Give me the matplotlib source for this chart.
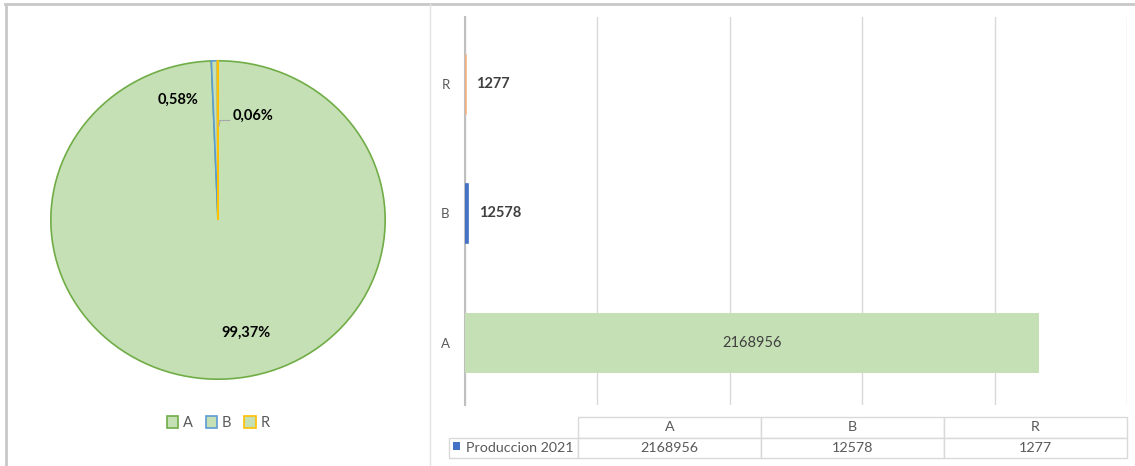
import numpy as np
import matplotlib
matplotlib.use("Agg")
import matplotlib.pyplot as plt
from matplotlib.patches import Patch, Rectangle
from matplotlib.lines import Line2D

plt.rcParams["font.family"] = ["Lato", "DejaVu Sans"]

# Datos de produccion 2021
categorias = ["A", "B", "R"]
produccion = [2168956, 12578, 1277]
serie = "Produccion 2021"

verde_claro = "#C5E0B4"
bordes_pie = ["#70AD47", "#5B9BD5", "#FFC000"]
bordes_barra = ["none", "#4472C4", "#F4B183"]
gris_texto = "#404040"
gris_eje = "#595959"

W, H = 1135, 466
fig = plt.figure(figsize=(W / 100, H / 100), dpi=100)


def caja(x0, y0, x1, y1):
    # rectangulo en pixeles (origen arriba a la izquierda) -> coords de figura
    return [x0 / W, 1 - y1 / H, (x1 - x0) / W, (y1 - y0) / H]


# marco y separador
fig.add_artist(Line2D([5 / W, 1], [1 - 4 / H, 1 - 4 / H], color="#C8C8C8", lw=2))
fig.add_artist(Line2D([6 / W, 6 / W], [0, 1 - 4 / H], color="#C8C8C8", lw=2))
fig.add_artist(Line2D([430 / W, 430 / W], [0, 1 - 4 / H], color="#E3E3E3", lw=1))

# ---- grafico circular ----
ax_pie = fig.add_axes(caja(50, 60, 386, 380))
wedges, _ = ax_pie.pie(produccion, startangle=90, counterclock=False,
                       colors=[verde_claro] * 3,
                       wedgeprops=dict(linewidth=1.2))
for w, c in zip(wedges, bordes_pie):
    w.set_edgecolor(c)
ax_pie.set_aspect("auto")
ax_pie.set_xlim(-1.005, 1.005)
ax_pie.set_ylim(-1.005, 1.005)

total = sum(produccion)
pct = [f"{v / total * 100:.2f}".replace(".", ",") + "%" for v in produccion]
ax_pie.text(0.17, -0.71, pct[0], ha="center", va="center", fontsize=10.5,
            fontweight="bold", color="black")
ax_pie.text(-0.24, 0.756, pct[1], ha="center", va="center", fontsize=10.5,
            fontweight="bold", color="black")
ax_pie.text(0.085, 0.655, pct[2], ha="left", va="center", fontsize=10.5,
            fontweight="bold", color="black")
ax_pie.plot([0.005, 0.012, 0.07], [0.59, 0.625, 0.625], color="#A6A6A6", lw=0.8)

handles = [Patch(facecolor=verde_claro, edgecolor=c, linewidth=1.2) for c in bordes_pie]
fig.legend(handles, categorias, loc="center", bbox_to_anchor=(218 / W, 1 - 423 / H),
           ncol=3, frameon=False, fontsize=10.5, handlelength=0.8, handleheight=0.8,
           handletextpad=0.3, columnspacing=0.9, labelcolor=gris_eje)

# ---- grafico de barras ----
ax_bar = fig.add_axes(caja(465, 16.5, 1127, 405))
y = np.arange(len(categorias))
barras = ax_bar.barh(y, produccion, height=0.46, color=verde_claro,
                     edgecolor=bordes_barra, linewidth=1.2, zorder=3)
barras[0].set_edgecolor("none")
barras[1].set_facecolor(bordes_barra[1])
barras[2].set_facecolor(bordes_barra[2])
barras[2].set_linewidth(1.8)
ax_bar.set_xlim(0, 2500000)
ax_bar.set_ylim(-0.48, 2.52)
ax_bar.set_xticks(np.arange(0, 2500001, 500000))
ax_bar.xaxis.grid(True, color="#D9D9D9", lw=1)
ax_bar.tick_params(axis="x", length=0, labelbottom=False)
ax_bar.set_yticks(y)
ax_bar.set_yticklabels(categorias, fontsize=9.5, color=gris_eje)
ax_bar.tick_params(axis="y", length=0, pad=11)
for s in ["top", "right", "bottom"]:
    ax_bar.spines[s].set_visible(False)
ax_bar.spines["left"].set_color("#BFBFBF")
ax_bar.spines["left"].set_linewidth(1.5)
ax_bar.spines["left"].set_zorder(2)

ax_bar.text(produccion[0] / 2, y[0], str(produccion[0]), ha="center", va="center",
            fontsize=10.5, color=gris_texto, zorder=5)
ax_bar.text(produccion[1] + 40000, y[1], str(produccion[1]), ha="left", va="center",
            fontsize=10.5, fontweight="bold", color=gris_texto, zorder=5)
ax_bar.text(produccion[2] + 40000, y[2], str(produccion[2]), ha="left", va="center",
            fontsize=10.5, fontweight="bold", color=gris_texto, zorder=5)

# ---- tabla de datos ----
ax_tab = fig.add_axes(caja(449, 417, 1127, 458))
ax_tab.axis("off")
anchos = [129 / 678] + [183 / 678] * 3
tabla = ax_tab.table(cellText=[[""] + categorias,
                               [serie] + [str(v) for v in produccion]],
                     colWidths=anchos, bbox=[0, 0, 1, 1], cellLoc="center")
tabla.auto_set_font_size(False)
tabla.set_fontsize(10.3)
for (r, c), celda in tabla.get_celld().items():
    celda.set_edgecolor("#D9D9D9")
    celda.set_linewidth(1)
    celda.get_text().set_color(gris_eje)
    if r == 0 and c == 0:
        celda.visible_edges = ""
tabla[1, 0].get_text().set_ha("left")
tabla[1, 0].PAD = 0.13
ax_tab.add_patch(Rectangle((4 / 678, 0.19), 7 / 678, 0.2, facecolor="#4472C4",
                           edgecolor="none", transform=ax_tab.transAxes, zorder=5))

fig.savefig("out.png", dpi=100)
